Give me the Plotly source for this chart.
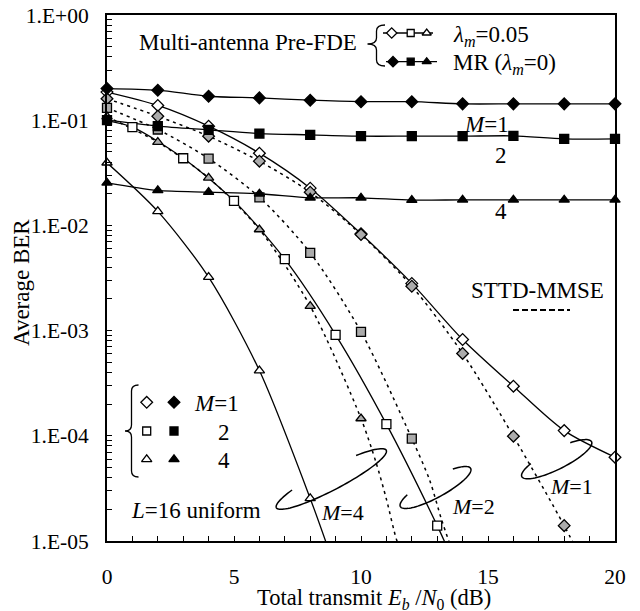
import math
import plotly.graph_objects as go

# ---------------- data ----------------
x_even = [0, 2, 4, 6, 8, 10, 12, 14, 16, 18, 20]

# MR (lambda_m = 0), filled black markers
mr_m1 = [0.200, 0.193, 0.169, 0.163, 0.155, 0.150, 0.150, 0.143, 0.143, 0.143, 0.143]
mr_m2 = [0.100, 0.088, 0.081, 0.0747, 0.0726, 0.0705, 0.0705, 0.0705, 0.071, 0.0665, 0.0665]
mr_m4 = [0.0254, 0.0215, 0.0207, 0.0200, 0.0183, 0.0183, 0.0174, 0.0175, 0.0175, 0.0175, 0.0175]

# lambda_m = 0.05, open markers, solid lines
lam_m1_x = [0, 2, 4, 6, 8, 10, 12, 14, 16, 18, 20]
lam_m1_y = [0.185, 0.138, 0.0877, 0.0486, 0.0226, 0.00832, 0.00281, 0.000823, 0.000296, 0.000112, 0.0000626]
lam_m2_x = [1, 3, 5, 7, 9, 11, 13]
lam_m2_y = [0.0858, 0.0435, 0.0171, 0.00477, 0.000912, 0.000129, 0.0000140]
lam_m2_line_x = [0, 1, 3, 5, 7, 9, 11, 13, 13.4]
lam_m2_line_y = [0.099, 0.0858, 0.0435, 0.0171, 0.00477, 0.000912, 0.000129, 0.0000140, 0.0000086]
lam_m4_x = [0, 2, 4, 6, 8]
lam_m4_y = [0.0394, 0.0136, 0.00322, 0.000417, 0.0000254]
lam_m4_line_x = [0, 2, 4, 6, 8, 8.7]
lam_m4_line_y = [0.0394, 0.0136, 0.00322, 0.000417, 0.0000254, 0.0000086]

# STTD-MMSE, gray markers, dotted lines
sttd_m1_x = [0, 2, 4, 6, 8, 10, 12, 14, 16, 18]
sttd_m1_y = [0.160, 0.109, 0.0705, 0.0408, 0.0207, 0.00819, 0.00264, 0.000606, 0.0000991, 0.0000140]
sttd_m1_line_x = [0, 2, 4, 6, 8, 10, 12, 14, 16, 18, 18.45]
sttd_m1_line_y = [0.160, 0.109, 0.0705, 0.0408, 0.0207, 0.00819, 0.00264, 0.000606, 0.0000991, 0.0000140, 0.0000086]
sttd_m2_x = [0, 2, 4, 6, 8, 10, 12]
sttd_m2_y = [0.131, 0.0816, 0.0432, 0.0185, 0.00549, 0.000974, 0.0000942]
sttd_m2_line_x = [0, 2, 4, 6, 8, 10, 12, 12.7, 13.17, 13.55]
sttd_m2_line_y = [0.131, 0.0816, 0.0432, 0.0185, 0.00549, 0.000974, 0.0000942, 0.000038, 0.000016, 0.0000086]
sttd_m4_x = [0, 2, 4, 6, 8, 10]
sttd_m4_y = [0.108, 0.0618, 0.0283, 0.00914, 0.00171, 0.000146]
sttd_m4_line_x = [0, 2, 4, 6, 8, 10, 10.6, 11.0, 11.4, 11.55]
sttd_m4_line_y = [0.108, 0.0618, 0.0283, 0.00914, 0.00171, 0.000146, 0.000055, 0.000025, 0.0000103, 0.0000086]

x_tick_values = list(range(0, 21))
x_tick_labels = ["0", "5", "10", "15", "20"]
y_decades = [1e-5, 1e-4, 1e-3, 1e-2, 1e-1, 1.0]
y_tick_labels = ["1.E-05", "1.E-04", "1.E-03", "1.E-02", "1.E-01", "1.E+00"]

# ---------------- styling ----------------
FONT = "Liberation Serif, Times New Roman, serif"
GRAY = "#ababab"
OFF = 8                      # default page margin of the html body
W, H = 640 - OFF, 611 - OFF  # figure size
PX0, PX1 = 107, 615          # plot area in page pixels
PY0, PY1 = 15, 541
L, R = PX0 - OFF, W - (PX1 - OFF)
T, B = PY0 - OFF, H - (PY1 - OFF)

fig = go.Figure()

def line(x, y, dash=None, width=1.3):
    fig.add_trace(go.Scatter(x=x, y=y, mode="lines", showlegend=False, hoverinfo="skip",
                             line=dict(color="black", width=width, dash=dash, shape="spline", smoothing=0.8)))

def marks(x, y, symbol, fill, size=9):
    fig.add_trace(go.Scatter(x=x, y=y, mode="markers", showlegend=False, cliponaxis=False,
                             marker=dict(symbol=symbol, size=size, color=fill,
                                         line=dict(color="black", width=1.3))))

DOT = "3px,4px"
# lines
line(sttd_m1_line_x, sttd_m1_line_y, DOT, 1.5)
line(sttd_m2_line_x, sttd_m2_line_y, DOT, 1.5)
line(sttd_m4_line_x, sttd_m4_line_y, DOT, 1.5)
line(lam_m1_x, lam_m1_y)
line(lam_m2_line_x, lam_m2_line_y)
line(lam_m4_line_x, lam_m4_line_y)
line(x_even, mr_m1)
line(x_even, mr_m2)
line(x_even, mr_m4)
# markers
marks(lam_m1_x, lam_m1_y, "diamond", "white")
marks(lam_m2_x, lam_m2_y, "square", "white")
marks(lam_m4_x, lam_m4_y, "triangle-up", "white")
marks(sttd_m1_x, sttd_m1_y, "diamond", GRAY)
marks(sttd_m2_x, sttd_m2_y, "square", GRAY)
marks(sttd_m4_x, sttd_m4_y, "triangle-up", GRAY)
marks(x_even, mr_m1, "diamond", "black")
marks(x_even, mr_m2, "square", "black")
marks(x_even, mr_m4, "triangle-up", "black")

# ---- overlay pixel axes for the decorations (legend, labels) ----
def pmark(x, y, symbol, fill, size):
    fig.add_trace(go.Scatter(x=x, y=y, mode="markers", xaxis="x2", yaxis="y2", showlegend=False,
                             cliponaxis=False, hoverinfo="skip",
                             marker=dict(symbol=symbol, size=size, color=fill,
                                         line=dict(color="black", width=1.3))))

def pline(x, y, width=1.3, dash=None):
    fig.add_trace(go.Scatter(x=x, y=y, mode="lines", xaxis="x2", yaxis="y2", showlegend=False,
                             cliponaxis=False, hoverinfo="skip",
                             line=dict(color="black", width=width, dash=dash)))

# top legend rows
pline([383, 433], [33, 33])
pmark([391.7], [33], "diamond", "white", 8)
pmark([410.7], [33], "square", "white", 7)
pmark([426.7], [33], "triangle-up", "white", 8)
pline([386, 437], [61.7, 61.7])
pmark([393], [61.7], "diamond", "black", 8)
pmark([410.7], [61.7], "square", "black", 7)
pmark([426.7], [61.7], "triangle-up", "black", 8)

# bottom-left legend markers
pmark([146.7], [402.3], "diamond", "white", 9)
pmark([174], [402.3], "diamond", "black", 9)
pmark([146.7], [431], "square", "white", 8)
pmark([174], [431], "square", "black", 8)
pmark([146.7], [459.3], "triangle-up", "white", 9)
pmark([174], [459.3], "triangle-up", "black", 9)

# STTD-MMSE dashed sample
pline([513, 570], [310, 310], width=2, dash="6px,3px")

shapes = []

def brace(x_tip, x_bar, x_end, y0, ym, y1, r=6):
    p = (f"M{x_end},{y0} Q{x_bar},{y0} {x_bar},{y0 + r} L{x_bar},{ym - r} "
         f"Q{x_bar},{ym} {x_tip},{ym} Q{x_bar},{ym} {x_bar},{ym + r} "
         f"L{x_bar},{y1 - r} Q{x_bar},{y1} {x_end},{y1}")
    shapes.append(dict(type="path", path=p, xref="x2", yref="y2",
                       line=dict(color="black", width=1.3)))

brace(367.5, 376.5, 385, 25, 44, 66)
brace(125, 131.5, 138.5, 385, 431, 477)

def loop(cx, cy, a, b, th_deg, t0, t1, n=80):
    th = math.radians(th_deg)
    pts = []
    for i in range(n + 1):
        t = math.radians(t0 + (t1 - t0) * i / n)
        u, v = a * math.cos(t), b * math.sin(t)
        px = cx + u * math.cos(th) + v * math.sin(th)
        py = cy - u * math.sin(th) + v * math.cos(th)
        pts.append(f"{px:.2f},{py:.2f}")
    p = "M" + " L".join(pts)
    shapes.append(dict(type="path", path=p, xref="x2", yref="y2",
                       line=dict(color="black", width=1.5)))

loop(331.3, 479, 62, 11, 27.6, 230, -58)
loop(435.5, 487.5, 40, 10, 28.5, 225, -53)
loop(556.7, 459.2, 39, 10, 26.6, 230, -60)

anns = []

def txt(x, y, s, xanchor="center", size=23, angle=0):
    anns.append(dict(x=x, y=y, xref="x2", yref="y2", text=s, showarrow=False,
                     xanchor=xanchor, yanchor="middle", textangle=angle,
                     font=dict(family=FONT, size=size, color="black")))

def ptxt(x, y, s, size=23, angle=0):
    # page-pixel position converted to paper coordinates (for text outside the plot area)
    xp = (x - PX0) / (PX1 - PX0)
    yp = (PY1 - y) / (PY1 - PY0)
    anns.append(dict(x=xp, y=yp, xref="paper", yref="paper", text=s, showarrow=False,
                     xanchor="center", yanchor="middle", textangle=angle,
                     font=dict(family=FONT, size=size, color="black")))

txt(136.7, 42, "Multi-antenna Pre-FDE", "left")
txt(451, 36, "<i>λ</i><sub><i>m</i></sub>=0.05", "left")
txt(451, 64, "MR (<i>λ</i><sub><i>m</i></sub>=0)", "left")
txt(486, 124, "<i>M</i>=1")
txt(501, 155, "2")
txt(500.5, 211, "4")
txt(537.5, 290, "STTD-MMSE")
txt(191.7, 403, "<i>M</i>=1", "left")
txt(224, 432, "2")
txt(224, 460, "4")
txt(129.3, 510, "<i>L</i>=16 uniform", "left")
txt(342.5, 512, "<i>M</i>=4", size=22)
txt(473.3, 506, "<i>M</i>=2", size=22)
txt(571.7, 486, "<i>M</i>=1", size=22)
ptxt(21, 283, "Average BER", angle=-90)
ptxt(374, 598.5, "Total transmit <i>E</i><sub><i>b</i></sub> /<i>N</i><sub>0</sub> (dB)", size=22.5)

# tick arrays
y_tickvals, y_ticktext = [], []
for k, d in enumerate(y_decades):
    y_tickvals.append(d)
    y_ticktext.append(y_tick_labels[k])
    if d < 1.0:
        for m in range(2, 10):
            y_tickvals.append(m * d)
            y_ticktext.append("")
x_ticktext = [x_tick_labels[v // 5] if v % 5 == 0 else "" for v in x_tick_values]

axis_common = dict(showgrid=False, zeroline=False, showline=True, linecolor="black",
                   linewidth=2, mirror=True, ticks="inside", ticklen=5, tickwidth=1.2,
                   tickcolor="black", automargin=False, ticklabeloverflow="allow",
                   tickfont=dict(family=FONT, size=21.5, color="black"))

fig.update_layout(
    width=W, height=H, margin=dict(l=L, r=R, t=T, b=B, autoexpand=False),
    paper_bgcolor="white", plot_bgcolor="white",
    xaxis=dict(range=[0, 20], tickmode="array", tickvals=x_tick_values, ticktext=x_ticktext,
               ticklabelstandoff=15, **axis_common),
    yaxis=dict(type="log", range=[-5, 0], tickmode="array", tickvals=y_tickvals,
               ticktext=y_ticktext, ticklabelstandoff=12, **axis_common),
    xaxis2=dict(range=[PX0, PX1], overlaying="x", anchor="y2", visible=False, fixedrange=True),
    yaxis2=dict(range=[PY1, PY0], overlaying="y", anchor="x2", visible=False, fixedrange=True),
    shapes=shapes, annotations=anns, showlegend=False,
)

fig.write_html("out.html")
